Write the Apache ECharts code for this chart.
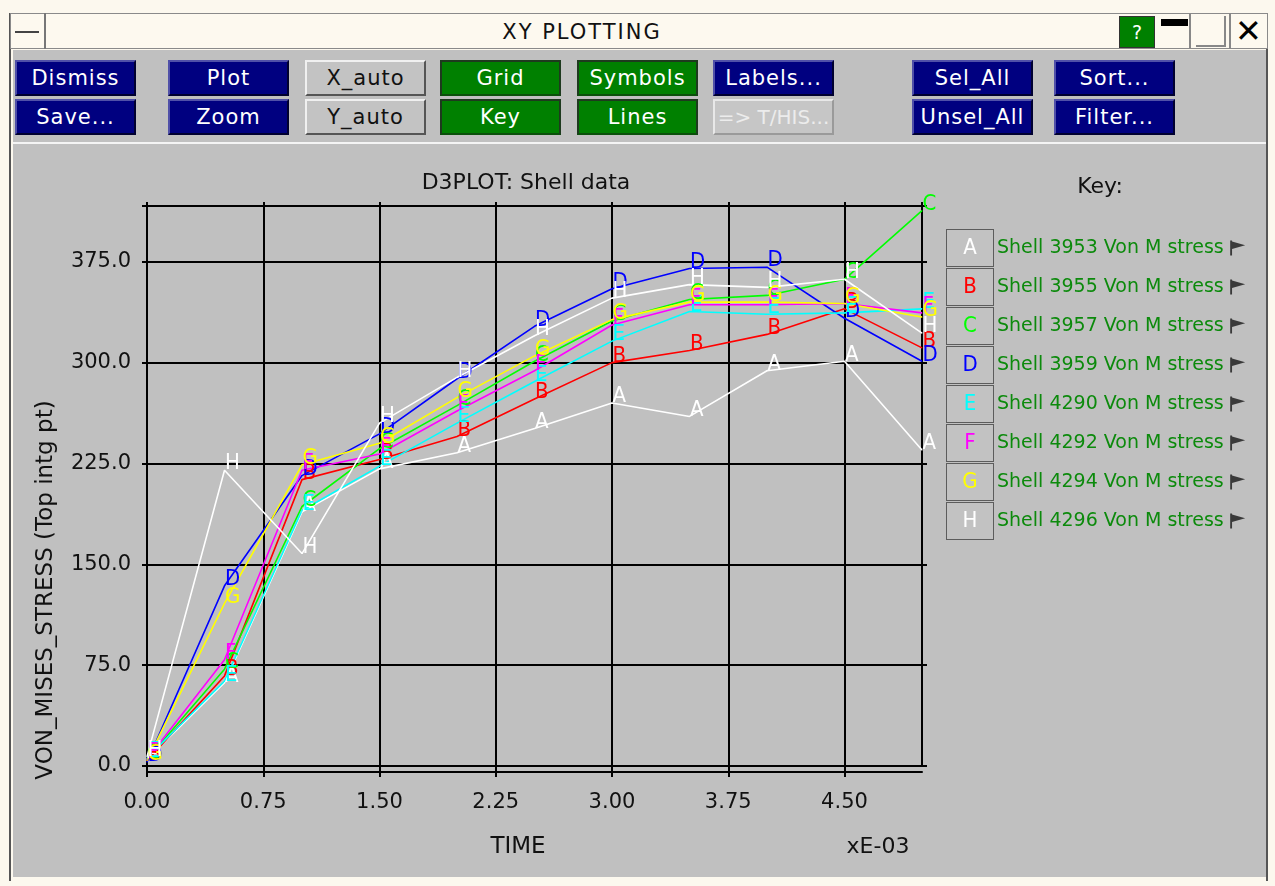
<!DOCTYPE html>
<html>
<head>
<meta charset="utf-8">
<script src="https://cdn.jsdelivr.net/npm/echarts@6/dist/echarts.min.js"></script>
<style>
  html, body { margin:0; padding:0; }
  body { width:1275px; height:886px; background:#fcf8ee; position:relative; overflow:hidden; font-family:"DejaVu Sans", sans-serif; }
  .abs { position:absolute; box-sizing:border-box; }
  .btn { position:absolute; box-sizing:border-box; height:36px; width:121px; font-size:21px; letter-spacing:1px; line-height:32px; text-align:center; border:2px solid; white-space:nowrap; overflow:hidden; }
  .navy { background:#000080; color:#fff; border-color:#5050a8 #000030 #000030 #5050a8; }
  .green { background:#008000; color:#fff; border-color:#1e3a1e #1e3a1e #0a500a #1e3a1e; }
  .grey { background:#c3c3c3; color:#111; border-color:#f0f0f0 #555 #555 #f0f0f0; }
  .dim { background:#c6c6c6; color:#ececec; border-color:#e8e8e8 #9a9a9a #9a9a9a #e8e8e8; letter-spacing:0; font-size:20px; }
  #chart { position:absolute; left:0; top:0; width:1275px; height:886px; }
</style>
</head>
<body>
<!-- window chrome -->
<div class="abs" style="left:9px;top:13px;width:2px;height:868px;background:#555;"></div>
<div class="abs" style="left:1266px;top:13px;width:2px;height:868px;background:#555;"></div>
<div class="abs" style="left:10px;top:13px;width:1258px;height:36px;border:1px solid #8a8a8a;background:#fdf9ef;"></div>
<div class="abs" style="left:10px;top:13px;width:36px;height:36px;border-right:2px solid #777;"></div>
<div class="abs" style="left:15px;top:31px;width:24px;height:2px;background:#444;"></div>
<div class="abs" style="left:46px;top:13px;width:1072px;height:36px;text-align:center;font-size:21px;line-height:38px;color:#111;letter-spacing:2px;">XY PLOTTING</div>
<div class="abs" style="left:1119px;top:16px;width:36px;height:32px;background:#008000;border:1px solid #333;color:#fff;text-align:center;font-size:19px;line-height:30px;">?</div>
<div class="abs" style="left:1161px;top:19px;width:27px;height:7px;background:#000;"></div>
<div class="abs" style="left:1189px;top:14px;width:2px;height:34px;background:#888;"></div>
<div class="abs" style="left:1196px;top:45px;width:28px;height:2px;background:#888;"></div>
<div class="abs" style="left:1224px;top:16px;width:2px;height:31px;background:#888;"></div>
<div class="abs" style="left:1229px;top:13px;width:37px;height:36px;border-left:2px solid #888;text-align:center;font-size:32px;line-height:36px;color:#000;">&#x2715;</div>
<!-- toolbar -->
<div class="abs" style="left:13px;top:50px;width:1253px;height:92px;background:#c0c0c0;"></div>
<div class="abs" style="left:13px;top:142px;width:1253px;height:2px;background:#f4f4f4;"></div>
<div class="abs" style="left:13px;top:144px;width:1253px;height:733px;background:#c0c0c0;"></div>
<div class="btn navy" style="left:15px;top:60px;">Dismiss</div>
<div class="btn navy" style="left:15px;top:99px;">Save...</div>
<div class="btn navy" style="left:168px;top:60px;">Plot</div>
<div class="btn navy" style="left:168px;top:99px;">Zoom</div>
<div class="btn grey" style="left:305px;top:60px;">X_auto</div>
<div class="btn grey" style="left:305px;top:99px;">Y_auto</div>
<div class="btn green" style="left:440px;top:60px;">Grid</div>
<div class="btn green" style="left:440px;top:99px;">Key</div>
<div class="btn green" style="left:577px;top:60px;">Symbols</div>
<div class="btn green" style="left:577px;top:99px;">Lines</div>
<div class="btn navy" style="left:713px;top:60px;">Labels...</div>
<div class="btn dim" style="left:713px;top:99px;">=&gt; T/HIS...</div>
<div class="btn navy" style="left:912px;top:60px;">Sel_All</div>
<div class="btn navy" style="left:912px;top:99px;">Unsel_All</div>
<div class="btn navy" style="left:1054px;top:60px;">Sort...</div>
<div class="btn navy" style="left:1054px;top:99px;">Filter...</div>

<div id="chart"></div>
<script>
// ---- data (time in units of 1E-03) ----
const timeValues = [0, 0.5, 1.0, 1.5, 2.0, 2.5, 3.0, 3.5, 4.0, 4.5, 5.0];
const seriesNames = [
  'Shell 3953 Von M stress', 'Shell 3955 Von M stress', 'Shell 3957 Von M stress', 'Shell 3959 Von M stress',
  'Shell 4290 Von M stress', 'Shell 4292 Von M stress', 'Shell 4294 Von M stress', 'Shell 4296 Von M stress'
];
const seriesLetters = ['A', 'B', 'C', 'D', 'E', 'F', 'G', 'H'];
const seriesColors = ['#ffffff', '#ff0000', '#00ff00', '#0000ff', '#00ffff', '#ff00ff', '#ffff00', '#ffffff'];
const shellA = [5, 62, 189, 221, 233, 251, 270, 260, 294, 301, 235];
const shellB = [4, 67, 213, 228, 245, 273, 300, 309, 321, 340, 311];
const shellC = [5, 72, 193, 236, 268, 301, 331, 347, 350, 362, 413];
const shellD = [3, 134, 216, 247, 288, 327, 355, 370, 371, 333, 301];
const shellE = [6, 63, 190, 223, 255, 286, 316, 338, 336, 337, 340];
const shellF = [5, 79, 220, 232, 264, 294, 328, 343, 343, 344, 337];
const shellG = [4, 121, 224, 240, 274, 305, 332, 345, 345, 344, 334];
const shellH = [7, 220, 158, 255, 289, 320, 348, 358, 356, 362, 322];
const seriesValues = [shellA, shellB, shellC, shellD, shellE, shellF, shellG, shellH];
const xTickStep = 0.75, xMin = 0, xMax = 5.0;
const yTickStep = 75, yMin = 0, yMax = 416.5;

const FONT = '"DejaVu Sans", sans-serif';
const LETTER_FONT = '"DejaVu Sans Condensed", "DejaVu Sans", sans-serif';
const isMult = (v, s) => Math.abs(v / s - Math.round(v / s)) < 1e-6;

const chart = echarts.init(document.getElementById('chart'), null, { renderer: 'canvas' });

const rich = { t: { color: '#0c8a0c', fontSize: 19, fontFamily: FONT, padding: [0, 0, 0, 4] } };
seriesLetters.forEach((L, i) => {
  rich['b' + L] = {
    width: 46, height: 36, align: 'center', verticalAlign: 'middle', lineHeight: 36,
    color: seriesColors[i], fontSize: 22, fontFamily: LETTER_FONT,
    backgroundColor: '#c2c2c2', borderColor: '#5c5c5c', borderWidth: 1
  };
});

const gridLine = { color: '#000', width: 2 };

const option = {
  animation: false,
  backgroundColor: 'transparent',
  title: {
    text: 'D3PLOT: Shell data', left: 521, top: 167, textAlign: 'center',
    textStyle: { fontSize: 22, fontWeight: 'normal', color: '#111', fontFamily: FONT }
  },
  grid: { left: 147, top: 206, width: 775, height: 560, containLabel: false },
  legend: {
    orient: 'vertical', left: 946, top: 229, itemGap: 1, padding: 0,
    selectedMode: false, align: 'right',
    icon: 'path://M0,0 L2,0 L2,16 L0,16 Z M2,1 L16,5 L2,9 Z',
    itemWidth: 18, itemHeight: 15,
    itemStyle: { color: '#3a3a3a', borderWidth: 0 },
    lineStyle: { opacity: 0, width: 0 },
    data: seriesNames,
    formatter: name => {
      const L = seriesLetters[seriesNames.indexOf(name)];
      return '{b' + L + '|' + L + '}{t|' + name + '}';
    },
    textStyle: { rich: rich }
  },
  xAxis: [
    {
      type: 'value', min: xMin, max: xMax, interval: xTickStep, position: 'bottom',
      axisLine: { show: true, onZero: false, lineStyle: gridLine },
      axisTick: { show: true, length: 11, lineStyle: gridLine },
      axisLabel: { formatter: v => isMult(v, xTickStep) ? v.toFixed(2) : '', color: '#111', fontSize: 21, fontFamily: FONT, margin: 26, showMaxLabel: false },
      splitLine: { show: true, lineStyle: gridLine }
    },
    {
      type: 'value', min: xMin, max: xMax, interval: xTickStep, position: 'top',
      axisLine: { show: true, onZero: false, lineStyle: gridLine },
      axisTick: { show: true, length: 4, lineStyle: gridLine },
      axisLabel: { show: false }, splitLine: { show: false }
    },
    {
      type: 'value', min: xMin, max: xMax, interval: xTickStep, position: 'bottom', offset: 6,
      axisLine: { show: true, onZero: false, lineStyle: gridLine },
      axisTick: { show: false }, axisLabel: { show: false }, splitLine: { show: false }
    }
  ],
  yAxis: [
    {
      type: 'value', min: yMin, max: yMax, interval: yTickStep, position: 'left',
      axisLine: { show: true, onZero: false, lineStyle: gridLine },
      axisTick: { show: true, length: 5, lineStyle: gridLine },
      axisLabel: { formatter: v => isMult(v, yTickStep) ? v.toFixed(1) : '', color: '#111', fontSize: 21, fontFamily: FONT, margin: 16 },
      splitLine: { show: true, lineStyle: gridLine }
    },
    {
      type: 'value', min: yMin, max: yMax, interval: yTickStep, position: 'right',
      axisLine: { show: true, onZero: false, lineStyle: gridLine },
      axisTick: { show: true, length: 5, lineStyle: gridLine },
      axisLabel: { show: false }, splitLine: { show: false }
    }
  ],
  graphic: [
    { type: 'text', x: 46, y: 590, rotation: Math.PI / 2, silent: true,
      style: { text: 'VON_MISES_STRESS (Top intg pt)', fill: '#111', font: '23px ' + FONT, align: 'center', verticalAlign: 'middle' } },
    { type: 'text', x: 518, y: 847, silent: true,
      style: { text: 'TIME', fill: '#111', font: '23px ' + FONT, align: 'center', verticalAlign: 'middle' } },
    { type: 'text', x: 878, y: 847, silent: true,
      style: { text: 'xE-03', fill: '#111', font: '22px ' + FONT, align: 'center', verticalAlign: 'middle' } },
    { type: 'text', x: 1100, y: 187, silent: true,
      style: { text: 'Key:', fill: '#111', font: '22px ' + FONT, align: 'center', verticalAlign: 'middle' } }
  ],
  series: seriesNames.map((name, i) => ({
    type: 'line', name: name, xAxisIndex: 0, yAxisIndex: 0,
    data: timeValues.map((t, k) => [t, seriesValues[i][k]]),
    symbol: 'circle', symbolSize: 1, showSymbol: true, silent: true,
    lineStyle: { width: 1.6, color: seriesColors[i] },
    itemStyle: { color: seriesColors[i] },
    label: {
      show: true, formatter: seriesLetters[i], position: [1, 5], align: 'left', verticalAlign: 'bottom',
      color: seriesColors[i], fontSize: 22, fontFamily: LETTER_FONT
    },
    emphasis: { disabled: true }
  }))
};
chart.setOption(option);
</script>
</body>
</html>
